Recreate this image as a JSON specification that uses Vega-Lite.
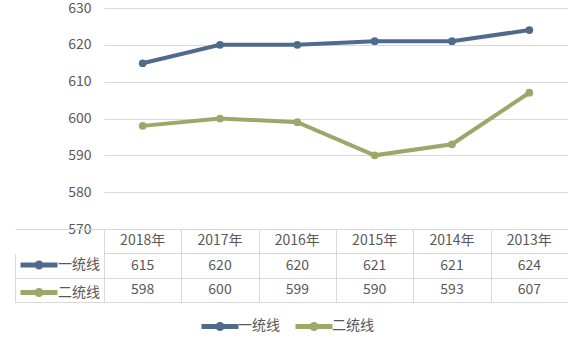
{
  "$schema": "https://vega.github.io/schema/vega-lite/v6.json",
  "padding": {"left": 14, "top": 1, "right": 0, "bottom": 0},
  "background": "white",
  "config": {
    "view": {"stroke": null},
    "font": "Noto Sans CJK SC",
    "axis": {"labelFont": "Noto Sans CJK SC"},
    "legend": {"labelFont": "Noto Sans CJK SC"}
  },
  "data": {
    "values": [
      {"year": "2018年", "series": "一统线", "value": 615},
      {"year": "2017年", "series": "一统线", "value": 620},
      {"year": "2016年", "series": "一统线", "value": 620},
      {"year": "2015年", "series": "一统线", "value": 621},
      {"year": "2014年", "series": "一统线", "value": 621},
      {"year": "2013年", "series": "一统线", "value": 624},
      {"year": "2018年", "series": "二统线", "value": 598},
      {"year": "2017年", "series": "二统线", "value": 600},
      {"year": "2016年", "series": "二统线", "value": 599},
      {"year": "2015年", "series": "二统线", "value": 590},
      {"year": "2014年", "series": "二统线", "value": 593},
      {"year": "2013年", "series": "二统线", "value": 607}
    ]
  },
  "spacing": 0,
  "bounds": "flush",
  "resolve": {"scale": {"x": "independent", "y": "independent", "color": "independent"}},
  "vconcat": [
    {
      "width": 464,
      "height": 221,
      "mark": {"type": "line", "strokeWidth": 4, "point": {"filled": true, "size": 60}},
      "encoding": {
        "x": {"field": "year", "type": "ordinal", "sort": null, "scale": {"type": "point", "padding": 0.5}, "axis": null},
        "y": {
          "field": "value", "type": "quantitative",
          "scale": {"domain": [570, 630], "nice": false, "zero": false},
          "axis": {"values": [570, 580, 590, 600, 610, 620, 630], "title": null, "domain": false, "ticks": false,
                   "labelPadding": 13, "labelFontSize": 14, "labelColor": "#595959", "gridColor": "#d9d9d9"}
        },
        "color": {"field": "series", "type": "nominal", "scale": {"domain": ["一统线", "二统线"], "range": ["#4e6b8c", "#9aa86a"]}, "legend": null}
      }
    },
    {
      "width": 464,
      "height": 73,
      "encoding": {
        "x": {"field": "year", "type": "ordinal", "sort": null,
              "scale": {"type": "band", "paddingInner": 0, "paddingOuter": 0},
              "axis": {"title": null, "labels": false, "ticks": false, "domain": false, "grid": true, "tickBand": "extent", "gridColor": "#d9d9d9"}}
      },
      "layer": [
        {
          "mark": {"type": "text", "fontSize": 14, "color": "#595959"},
          "encoding": {
            "y": {"field": "series", "type": "nominal",
                  "scale": {"type": "band", "domain": ["年份", "一统线", "二统线"], "paddingInner": 0, "paddingOuter": 0},
                  "axis": {"title": null, "labels": false, "grid": true, "tickBand": "extent", "gridColor": "#d9d9d9",
                           "offset": 89, "domain": true, "domainColor": "#d9d9d9", "domainDash": [0, 24.4, 49, 0],
                           "tickSize": -89, "tickColor": {"condition": {"test": "datum.value === '年份'", "value": "transparent"}, "value": "#d9d9d9"}}},
            "text": {"field": "value", "type": "quantitative"}
          }
        },
        {
          "transform": [{"filter": "datum.series === '一统线'"}],
          "mark": {"type": "text", "fontSize": 14, "color": "#595959"},
          "encoding": {
            "y": {"datum": "年份", "type": "nominal"},
            "text": {"field": "year", "type": "nominal"}
          }
        },
        {
          "transform": [{"filter": "false"}],
          "mark": {"type": "line"},
          "encoding": {
            "y": {"field": "series", "type": "nominal"},
            "color": {"field": "series", "type": "nominal",
                      "scale": {"domain": ["一统线", "二统线"], "range": ["#4e6b8c", "#9aa86a"]},
                      "legend": {"orient": "none", "legendX": -77, "legendY": 24, "title": null, "padding": 0,
                                 "symbolType": "M-2,0H2M0.22,0A0.22,0.22,0,1,1,-0.22,0A0.22,0.22,0,1,1,0.22,0",
                                 "symbolSize": 342, "symbolStrokeWidth": 5, "labelOffset": 7, "rowPadding": 1.5,
                                 "labelFontSize": 14, "labelColor": "#595959"}}
          }
        },
        {
          "transform": [{"filter": "false"}],
          "mark": {"type": "line"},
          "encoding": {
            "y": {"field": "series", "type": "nominal"},
            "stroke": {"field": "series", "type": "nominal",
                       "scale": {"domain": ["一统线", "二统线"], "range": ["#4e6b8c", "#9aa86a"]},
                       "legend": {"orient": "none", "direction": "horizontal", "legendX": 104, "legendY": 306, "title": null, "padding": 0,
                                  "symbolType": "M-2,0H2M0.22,0A0.22,0.22,0,1,1,-0.22,0A0.22,0.22,0,1,1,0.22,0",
                                  "symbolSize": 342, "symbolStrokeWidth": 5, "labelOffset": 6, "columnPadding": 5,
                                  "labelFontSize": 14, "labelColor": "#595959"}}
          }
        }
      ]
    }
  ]
}
